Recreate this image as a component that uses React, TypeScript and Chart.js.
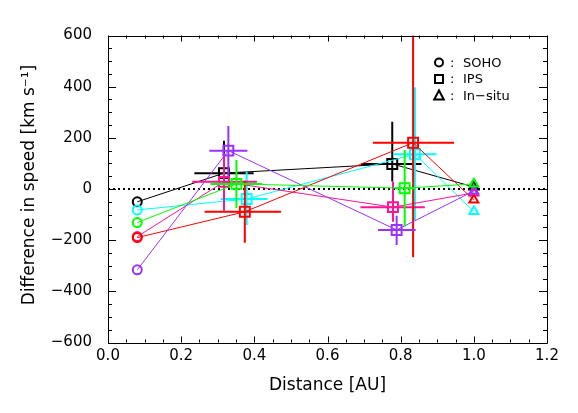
import React, { useEffect, useRef } from "react";
import { Chart, registerables } from "chart.js";
Chart.register(...registerables);

// measurement kind of each point in a series: SOHO, IPS, IPS, In-situ
const pointKinds = ["circle", "rect", "rect", "triangle"];

const blackX = [0.08, 0.317, 0.777, 1.0];
const blackY = [-50, 62, 98, 8];
const cyanX = [0.08, 0.379, 0.839, 1.0];
const cyanY = [-82, -39, 136, -88];
const greenX = [0.08, 0.351, 0.811, 1.0];
const greenY = [-131, 20, 3, 20];
const redX = [0.08, 0.374, 0.834, 1.0];
const redY = [-190, -89, 181, -43];
const pinkX = [0.08, 0.317, 0.779, 1.0];
const pinkY = [-186, 28, -71, -15];
const purpleX = [0.08, 0.329, 0.789, 1.0];
const purpleY = [-316, 150, -160, -8];

// error bars (only IPS points carry them)
const blackXLo = [null, 0.236, 0.692, null];
const blackXHi = [null, 0.398, 0.857, null];
const blackYLo = [null, -70, 29, null];
const blackYHi = [null, 189, 263, null];
const cyanXLo = [null, 0.308, 0.779, null];
const cyanXHi = [null, 0.436, 0.898, null];
const cyanYLo = [null, -141, -121, null];
const cyanYHi = [null, 67, 398, null];
const greenXLo = [null, 0.28, 0.785, null];
const greenXHi = [null, 0.422, 0.84, null];
const greenYLo = [null, -75, -147, null];
const greenYHi = [null, 113, 152, null];
const redXLo = [null, 0.264, 0.724, null];
const redXHi = [null, 0.473, 0.946, null];
const redYLo = [null, -210, -267, null];
const redYHi = [null, 32, 650, null];
const pinkXLo = [null, 0.23, 0.69, null];
const pinkXHi = [null, 0.407, 0.866, null];
const pinkYLo = [null, -85, -128, null];
const pinkYHi = [null, 140, 29, null];
const purpleXLo = [null, 0.277, 0.738, null];
const purpleXHi = [null, 0.381, 0.841, null];
const purpleYLo = [null, 50, -219, null];
const purpleYHi = [null, 246, -105, null];

const legendLabels = ["SOHO", "IPS", "In\u2212situ"];
const xTitle = "Distance [AU]";
const yTitle = "Difference in speed [km s\u207B\u00B9]";

const FONT = "'DejaVu Sans', sans-serif";

type Series = {
  color: string;
  xs: number[];
  ys: number[];
  xLo: (number | null)[];
  xHi: (number | null)[];
  yLo: (number | null)[];
  yHi: (number | null)[];
};

// drawing order: first entry is drawn on top
const seriesList: Series[] = [
  { color: "#00ff00", xs: greenX, ys: greenY, xLo: greenXLo, xHi: greenXHi, yLo: greenYLo, yHi: greenYHi },
  { color: "#9933ff", xs: purpleX, ys: purpleY, xLo: purpleXLo, xHi: purpleXHi, yLo: purpleYLo, yHi: purpleYHi },
  { color: "#ff0000", xs: redX, ys: redY, xLo: redXLo, xHi: redXHi, yLo: redYLo, yHi: redYHi },
  { color: "#ff1493", xs: pinkX, ys: pinkY, xLo: pinkXLo, xHi: pinkXHi, yLo: pinkYLo, yHi: pinkYHi },
  { color: "#00ffff", xs: cyanX, ys: cyanY, xLo: cyanXLo, xHi: cyanXHi, yLo: cyanYLo, yHi: cyanYHi },
  { color: "#000000", xs: blackX, ys: blackY, xLo: blackXLo, xHi: blackXHi, yLo: blackYLo, yHi: blackYHi },
];

const errorBarPlugin = {
  id: "errorBars",
  afterDatasetDraw(chart: any, args: any) {
    const s = seriesList[args.index];
    if (!s) return;
    const { ctx, chartArea } = chart;
    const xs = chart.scales.x;
    const ys = chart.scales.y;
    ctx.save();
    ctx.beginPath();
    ctx.rect(chartArea.left, chartArea.top, chartArea.right - chartArea.left, chartArea.bottom - chartArea.top);
    ctx.clip();
    ctx.strokeStyle = s.color;
    ctx.lineWidth = 2;
    for (let i = 0; i < s.xs.length; i++) {
      const px = xs.getPixelForValue(s.xs[i]);
      const py = ys.getPixelForValue(s.ys[i]);
      ctx.beginPath();
      if (s.xLo[i] != null && s.xHi[i] != null) {
        ctx.moveTo(xs.getPixelForValue(s.xLo[i]), py);
        ctx.lineTo(xs.getPixelForValue(s.xHi[i]), py);
      }
      if (s.yLo[i] != null && s.yHi[i] != null) {
        ctx.moveTo(px, ys.getPixelForValue(s.yLo[i]));
        ctx.lineTo(px, ys.getPixelForValue(s.yHi[i]));
      }
      ctx.stroke();
    }
    ctx.restore();
  },
};

const framePlugin = {
  id: "frameTicks",
  afterDraw(chart: any) {
    const { ctx, chartArea } = chart;
    const { left, right, top, bottom } = chartArea;
    const xs = chart.scales.x;
    const ys = chart.scales.y;
    ctx.save();
    ctx.strokeStyle = "#000";
    ctx.lineWidth = 1;
    ctx.beginPath();
    ctx.rect(Math.round(left) + 0.5, Math.round(top) + 0.5, Math.round(right - left), Math.round(bottom - top));
    ctx.stroke();
    ctx.beginPath();
    for (let i = 0; i <= 24; i++) {
      const v = i * 0.05;
      const len = i % 4 === 0 ? 6 : 3;
      const p = Math.round(xs.getPixelForValue(v)) + 0.5;
      ctx.moveTo(p, bottom);
      ctx.lineTo(p, bottom - len);
      ctx.moveTo(p, top);
      ctx.lineTo(p, top + len);
    }
    for (let i = 0; i <= 24; i++) {
      const v = -600 + i * 50;
      const len = i % 4 === 0 ? 8 : 4;
      const p = Math.round(ys.getPixelForValue(v)) + 0.5;
      ctx.moveTo(left, p);
      ctx.lineTo(left + len, p);
      ctx.moveTo(right, p);
      ctx.lineTo(right - len, p);
    }
    ctx.stroke();

    // axis titles
    ctx.fillStyle = "#000";
    ctx.font = `17px ${FONT}`;
    ctx.textAlign = "center";
    ctx.textBaseline = "middle";
    ctx.fillText(xTitle, (left + right) / 2, bottom + 43);
    ctx.save();
    ctx.translate(30, (top + bottom) / 2 - 4);
    ctx.rotate(-Math.PI / 2);
    ctx.fillText(yTitle, 0, 0);
    ctx.restore();

    // legend
    const symX = right - 108;
    const rows = [top + 27, top + 43.5, top + 60];
    ctx.lineWidth = 2;
    ctx.strokeStyle = "#000";
    ctx.font = `13px ${FONT}`;
    ctx.textAlign = "left";
    for (let r = 0; r < 3; r++) {
      const cy = rows[r];
      ctx.beginPath();
      if (r === 0) {
        ctx.arc(symX, cy, 4, 0, Math.PI * 2);
      } else if (r === 1) {
        ctx.rect(symX - 4, cy - 4, 8, 8);
      } else {
        ctx.moveTo(symX, cy - 5);
        ctx.lineTo(symX + 4.8, cy + 4);
        ctx.lineTo(symX - 4.8, cy + 4);
        ctx.closePath();
      }
      ctx.stroke();
      ctx.fillText(":", symX + 11, cy + 1);
      ctx.fillText(legendLabels[r], symX + 24, cy + 1);
    }
    ctx.restore();
  },
};

export default function App() {
  const ref = useRef<HTMLCanvasElement | null>(null);
  useEffect(() => {
    if (!ref.current) return;
    const datasets: any[] = seriesList.map((s) => ({
      data: s.xs.map((x, i) => ({ x, y: s.ys[i] })),
      showLine: true,
      borderColor: s.color,
      borderWidth: 1,
      pointStyle: pointKinds,
      pointRadius: [4.5, 7, 7, 5.2],
      pointBorderWidth: 2,
      pointBorderColor: s.color,
      pointBackgroundColor: "rgba(0,0,0,0)",
      fill: false,
      tension: 0,
      clip: false,
    }));
    datasets.push({
      data: [
        { x: 0, y: 0 },
        { x: 1.2, y: 0 },
      ],
      showLine: true,
      borderColor: "#000",
      borderWidth: 2,
      borderDash: [2, 3],
      pointRadius: 0,
      fill: false,
    });
    const chart = new Chart(ref.current, {
      type: "scatter",
      data: { datasets },
      plugins: [errorBarPlugin, framePlugin],
      options: {
        responsive: false,
        animation: false,
        layout: { padding: { top: 35.5, right: 31, bottom: 0, left: 0 } },
        plugins: { legend: { display: false }, tooltip: { enabled: false } },
        scales: {
          x: {
            type: "linear",
            min: 0,
            max: 1.2,
            grid: { display: false, drawTicks: false },
            border: { display: false },
            ticks: {
              stepSize: 0.2,
              padding: 5,
              color: "#000",
              font: { family: FONT, size: 15 },
              maxRotation: 0,
              callback: (v: any) => Number(v).toFixed(1),
            },
            afterFit: (s: any) => {
              s.height = 70.5;
            },
          },
          y: {
            type: "linear",
            min: -600,
            max: 600,
            grid: { display: false, drawTicks: false },
            border: { display: false },
            ticks: {
              stepSize: 200,
              padding: 16,
              color: "#000",
              font: { family: FONT, size: 15 },
              callback: (v: any) => String(Math.round(Number(v))).replace("-", "\u2212"),
            },
            afterFit: (s: any) => {
              s.width = 108;
            },
          },
        },
      },
    });
    return () => chart.destroy();
  }, []);
  return (
    <div style={{ position: "fixed", left: 0, top: 0, width: 578, height: 413, background: "#fff" }}>
      <canvas ref={ref} width={578} height={413} style={{ width: 578, height: 413 }} />
    </div>
  );
}
